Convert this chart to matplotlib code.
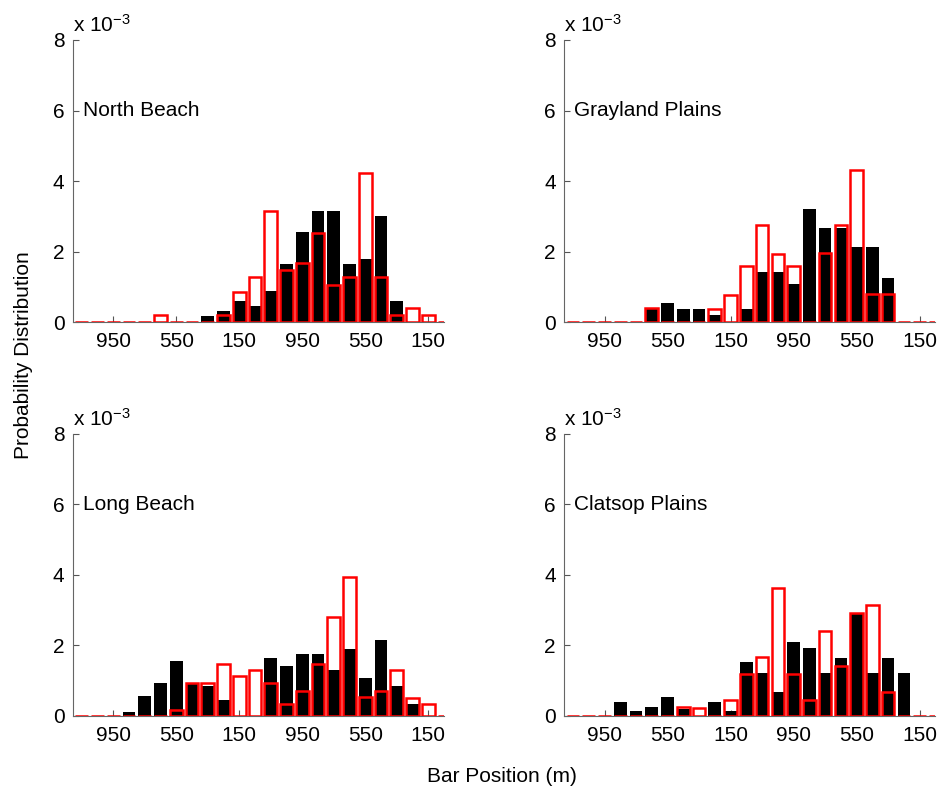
import matplotlib
matplotlib.use('Agg')
import matplotlib.pyplot as plt
import numpy as np

plt.rcParams['font.family'] = ['Liberation Sans', 'DejaVu Sans']
plt.rcParams['mathtext.fontset'] = 'custom'
plt.rcParams['mathtext.rm'] = 'Liberation Sans'
plt.rcParams['mathtext.it'] = 'Liberation Sans'

# probability distribution values, in units of 1e-3, 24 bins of 100 m
sites = ['North Beach', 'Grayland Plains', 'Long Beach', 'Clatsop Plains']

north_black = [0, 0, 0, 0, 0, 0, 0, 0, 0.16, 0.30, 0.59, 0.45, 0.89, 1.64, 2.56, 3.16,
               3.16, 1.64, 1.80, 3.00, 0.59, 0, 0, 0]
north_red = [0, 0, 0, 0, 0, 0.21, 0, 0, 0, 0.21, 0.84, 1.27, 3.16, 1.47, 1.67, 2.53,
             1.05, 1.27, 4.23, 1.27, 0.21, 0.40, 0.21, 0]

grayland_black = [0, 0, 0, 0, 0, 0.37, 0.54, 0.36, 0.36, 0.19, 0, 0.36, 1.43, 1.43, 1.08, 3.21,
                  2.66, 2.66, 2.14, 2.14, 1.24, 0, 0, 0]
grayland_red = [0, 0, 0, 0, 0, 0.40, 0, 0, 0, 0.38, 0.78, 1.58, 2.74, 1.94, 1.58, 0,
                1.95, 2.74, 4.31, 0.80, 0.80, 0, 0, 0]

long_black = [0, 0, 0, 0.12, 0.58, 0.94, 1.56, 0.91, 0.84, 0.45, 0, 0, 1.64, 1.43, 1.77, 1.77,
              1.31, 1.90, 1.07, 2.15, 0.84, 0.35, 0, 0]
long_red = [0, 0, 0, 0, 0, 0, 0.16, 0.93, 0.93, 1.46, 1.12, 1.29, 0.93, 0.35, 0.72, 1.48,
            2.82, 3.95, 0.55, 0.72, 1.29, 0.52, 0.35, 0]

clatsop_black = [0, 0, 0, 0.40, 0.13, 0.26, 0.54, 0.21, 0, 0.40, 0.13, 1.52, 1.22, 0.68, 2.10, 1.94,
                 1.22, 1.64, 2.91, 1.22, 1.64, 1.22, 0, 0]
clatsop_red = [0, 0, 0, 0, 0, 0, 0, 0.26, 0.23, 0, 0.45, 1.19, 1.67, 3.64, 1.19, 0.46,
               2.40, 1.41, 2.91, 3.15, 0.68, 0, 0, 0]

black_series = [north_black, grayland_black, long_black, clatsop_black]
red_series = [north_red, grayland_red, long_red, clatsop_red]

tick_pos = [2, 6, 10, 14, 18, 22]
tick_labels = ['950', '550', '150', '950', '550', '150']
ytick_vals = [0, 2, 4, 6, 8]

fig = plt.figure(figsize=(9.41, 7.92), dpi=100)

positions = [[0.0773, 0.5934, 0.3946, 0.3561],
             [0.5994, 0.5934, 0.3946, 0.3561],
             [0.0773, 0.0960, 0.3946, 0.3561],
             [0.5994, 0.0960, 0.3946, 0.3561]]

for i in range(4):
    ax = fig.add_axes(positions[i])
    x = np.arange(len(black_series[i]))
    ax.bar(x, black_series[i], width=0.8, color='black', linewidth=0, zorder=2)
    ax.bar(x, red_series[i], width=0.8, facecolor='none', edgecolor='red',
           linewidth=1.8, zorder=3)
    ax.set_xlim(-0.57, 23.0)
    ax.set_ylim(0, 8)
    ax.set_xticks(tick_pos)
    ax.set_xticklabels(tick_labels)
    ax.set_yticks(ytick_vals)
    ax.tick_params(direction='in', length=4, width=0.8, color='#555555',
                   labelsize=15, pad=6)
    ax.tick_params(axis='x', pad=7)
    ax.spines['top'].set_visible(False)
    ax.spines['right'].set_visible(False)
    for s in ['left', 'bottom']:
        ax.spines[s].set_color('#666666')
        ax.spines[s].set_linewidth(0.8)
    ax.text(0.027, 0.75, sites[i], transform=ax.transAxes, fontsize=15,
            ha='left', va='center')
    ax.text(0.0, 1.015, r'x 10$^{-3}$', transform=ax.transAxes, fontsize=15,
            ha='left', va='bottom')

fig.text(0.0245, 0.552, 'Probability Distribution', rotation=90, fontsize=15,
         ha='center', va='center')
fig.text(0.533, 0.02, 'Bar Position (m)', fontsize=15, ha='center', va='center')

fig.savefig('out.png', dpi=100)
